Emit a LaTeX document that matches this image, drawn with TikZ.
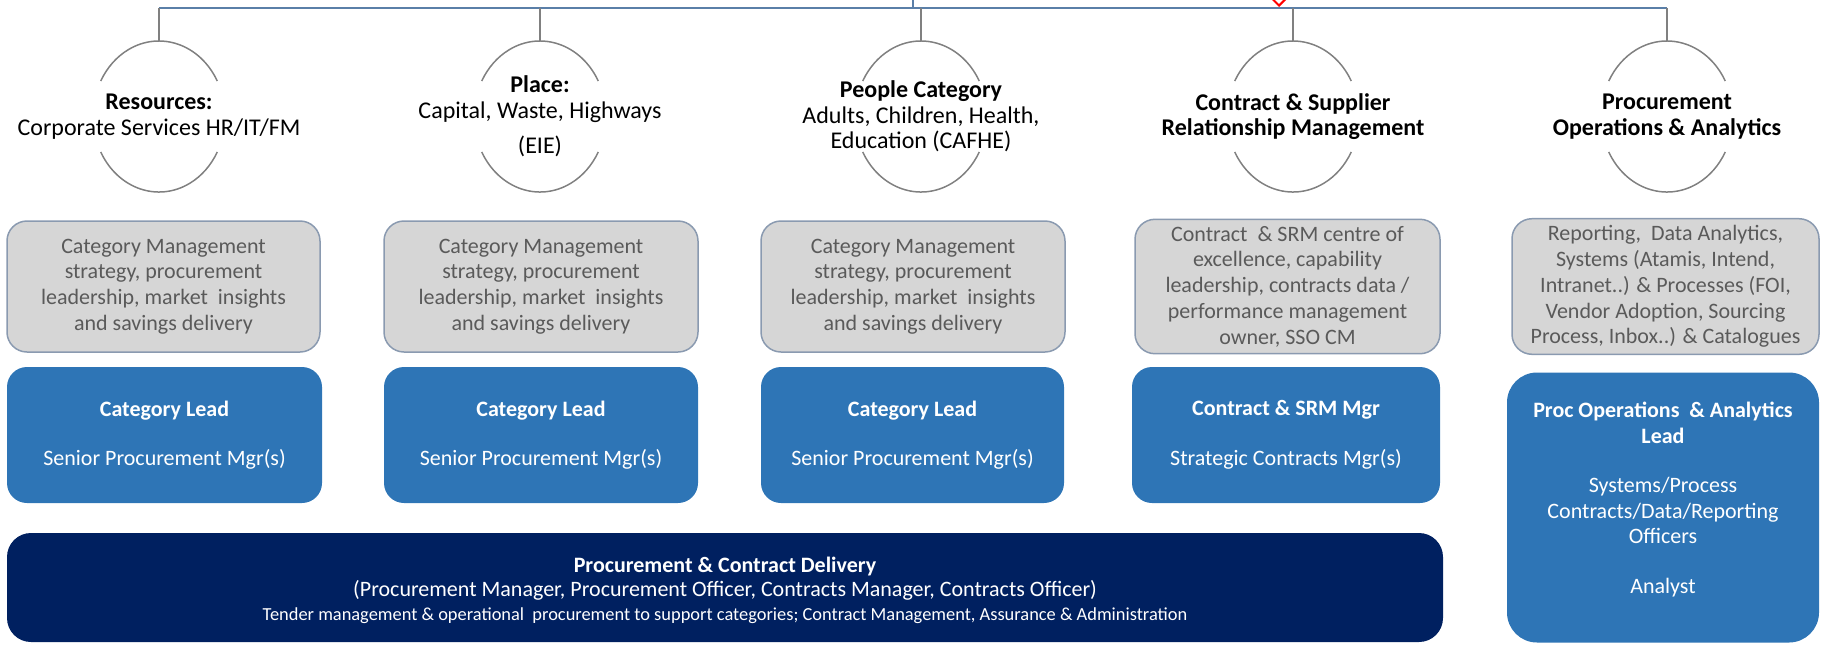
\documentclass[tikz,border=0pt]{standalone}
\usepackage{fontspec}
\setmainfont{Carlito}
\usetikzlibrary{shapes.geometric}

\definecolor{remitgrey}{HTML}{D6D6D6}
\definecolor{remitedge}{HTML}{8A9AB0}
\definecolor{remittext}{HTML}{5A5A5A}
\definecolor{roleblue}{HTML}{2E75B6}
\definecolor{navy}{HTML}{002060}
\definecolor{barblue}{HTML}{5A7FA8}
\definecolor{linkgrey}{HTML}{808080}

\tikzset{
  hub/.style={ellipse, minimum width=66pt, minimum height=75.5pt, inner sep=0pt,
    align=center, font=\fontsize{12}{12.75}\selectfont},
  arcline/.style={draw=linkgrey, line width=0.75pt},
  link/.style={draw=linkgrey, line width=0.75pt},
  barline/.style={draw=barblue, line width=0.75pt},
  remit/.style={rectangle, rounded corners=10pt, draw=remitedge, fill=remitgrey,
    line width=0.75pt, text=remittext, align=center, minimum height=65.5pt,
    font=\fontsize{11}{12.9}\selectfont},
  role/.style={rectangle, rounded corners=10pt, fill=roleblue, text=white,
    align=center, minimum height=68pt, font=\fontsize{11}{12.75}\selectfont},
  delivery/.style={rectangle, rounded corners=12pt, fill=navy, text=white,
    align=center, minimum width=718pt, minimum height=54.5pt,
    font=\fontsize{11}{12}\selectfont}
}

\begin{document}
\begin{tikzpicture}[x=0.5pt,y=-0.5pt]
\useasboundingbox (0,0) rectangle (1821,644);

% reporting line from above
\coordinate (up) at (913,0);
\coordinate (bar) at (913,8);
\node[diamond, draw=red, line width=1pt, minimum size=6pt, inner sep=0pt] (pin) at (1279,0) {};

% the five hubs
\node[hub] (res) at (159,116.5) {\textbf{Resources:}\\Corporate Services HR/IT/FM};
\node[hub] (place) at (540,116.5) {\textbf{Place:}\\Capital, Waste, Highways\\[5pt](EIE)};
\node[hub] (people) at (921,116.5) {\textbf{People Category}\\Adults, Children, Health,\\Education (CAFHE)};
\node[hub] (csrm) at (1293,116.5) {\textbf{Contract \& Supplier}\\\textbf{Relationship Management}};
\node[hub] (ops) at (1667,116.5) {\textbf{Procurement}\\\textbf{Operations \& Analytics}};

\draw[barline] (up) -- (bar);
\draw[barline] (res.north |- bar) -- (ops.north |- bar);
\foreach \n in {res,place,people,csrm,ops}{
  \draw[link] (\n.north |- bar) -- (\n.north);
  \draw[arcline] ([shift={(28:33pt and 37.75pt)}]\n.center)
    arc[start angle=28, end angle=152, x radius=33pt, y radius=37.75pt];
  \draw[arcline] ([shift={(208:33pt and 37.75pt)}]\n.center)
    arc[start angle=208, end angle=332, x radius=33pt, y radius=37.75pt];
}

% remit of each team
\node[remit, minimum width=156.5pt] (resremit) at (163.5,286.5)
  {Category Management\\strategy, procurement\\leadership, market\ \ insights\\and savings delivery};
\node[remit, minimum width=157pt] (placeremit) at (541,286.5)
  {Category Management\\strategy, procurement\\leadership, market\ \ insights\\and savings delivery};
\node[remit, minimum width=152pt] (peopleremit) at (913,286.5)
  {Category Management\\strategy, procurement\\leadership, market\ \ insights\\and savings delivery};
\node[remit, minimum width=152.5pt] (csrmremit) at (1287.5,286.5)
  {Contract\ \ \& SRM centre of\\excellence, capability\\leadership, contracts data /\\performance management\\owner, SSO CM};
\node[remit, minimum width=153.5pt] (opsremit) at (1665.5,286.5)
  {Reporting,\ \ Data Analytics,\\Systems (Atamis, Intend,\\Intranet..) \& Processes (FOI,\\Vendor Adoption, Sourcing\\Process, Inbox..) \& Catalogues};

% roles
\node[role, minimum width=157.5pt] (reslead) at (164.5,435)
  {\textbf{Category Lead}\\[12pt]Senior Procurement Mgr(s)};
\node[role, minimum width=157pt] (placelead) at (541,435)
  {\textbf{Category Lead}\\[12pt]Senior Procurement Mgr(s)};
\node[role, minimum width=151.5pt] (peoplelead) at (912.5,435)
  {\textbf{Category Lead}\\[12pt]Senior Procurement Mgr(s)};
\node[role, minimum width=154pt] (csrmlead) at (1286,435)
  {\textbf{Contract \& SRM Mgr}\\[12pt]Strategic Contracts Mgr(s)};
\node[role, rounded corners=15pt, minimum width=156pt, minimum height=135pt] (opslead) at (1663,507.5) {};
\node[align=center, text=white, font=\fontsize{11}{12.75}\selectfont] (opstext) at ([yshift=4pt]opslead.center)
  {\textbf{Proc Operations\ \ \& Analytics}\\\textbf{Lead}\\[12pt]Systems/Process\\Contracts/Data/Reporting\\Officers\\[12pt]Analyst};

% shared delivery team
\node[delivery] (pcd) at (725,587.5) {};
\node[align=center, text=white, font=\fontsize{11}{12}\selectfont] (pcdtext) at ([yshift=-1.5pt]pcd.center)
  {\textbf{Procurement \& Contract Delivery}\\(Procurement Manager, Procurement Officer, Contracts Manager, Contracts Officer)\\
   {\fontsize{9.2}{11}\selectfont Tender management \& operational\ \ procurement to support categories; Contract Management, Assurance \& Administration}};
\end{tikzpicture}
\end{document}
